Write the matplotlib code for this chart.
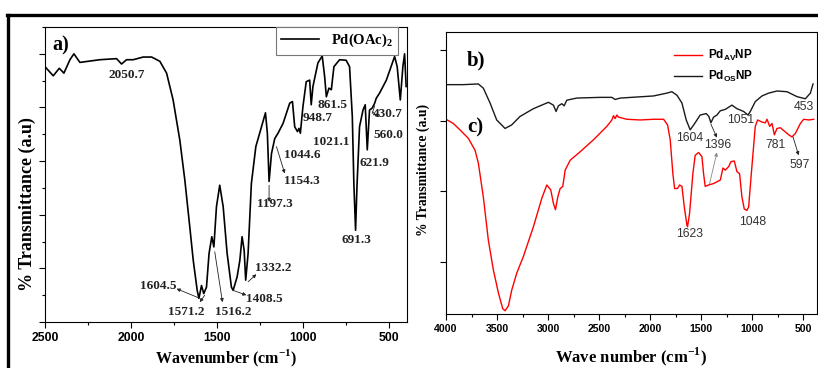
#!/usr/bin/env python
"""FTIR spectra: Pd(OAc)2 and the two Pd nanoparticle samples"""

import sys

import matplotlib
matplotlib.use("Agg")
import matplotlib.pyplot as plt
from matplotlib.lines import Line2D
from matplotlib.ticker import MultipleLocator

plt.rcParams['mathtext.fontset'] = 'custom'
plt.rcParams['mathtext.bf'] = 'Liberation Serif:bold'
plt.rcParams['mathtext.sf'] = 'Liberation Sans:bold'
plt.rcParams['mathtext.rm'] = 'Liberation Serif:bold'

SERIF = 'Liberation Serif'
SANS = 'Liberation Sans'

# panel a) Pd(OAc)2
pdoac_wn = [2500, 2452, 2417, 2390, 2355, 2332, 2297, 2181, 2084, 2055, 2026,
            1987, 1929, 1880, 1832, 1793, 1755, 1716, 1687, 1658, 1638, 1615,
            1605, 1590, 1577, 1561, 1546, 1530, 1518, 1503, 1484, 1464, 1441,
            1416, 1406, 1383, 1367, 1354, 1342, 1333, 1319, 1300, 1274, 1241,
            1218, 1207, 1197, 1183, 1164, 1145, 1116, 1077, 1061, 1048, 1032,
            1023, 1015, 1000, 981, 961, 952, 942, 913, 888, 874, 864, 849, 835,
            820, 787, 749, 729, 713, 704, 694, 686, 671, 651, 638, 626, 613,
            597, 583, 574, 554, 515, 467, 452, 434, 419, 409, 400]
pdoac_t = [4.76, 4.59, 4.73, 4.64, 4.89, 5.00, 4.84, 4.89, 4.91, 4.81, 4.89,
           4.89, 4.94, 4.94, 4.86, 4.64, 4.14, 3.39, 2.65, 1.77, 1.15, 0.59,
           0.44, 0.68, 0.53, 0.65, 1.28, 1.59, 1.40, 2.15, 2.55, 2.15, 1.28,
           0.65, 0.59, 0.84, 1.15, 1.59, 1.34, 0.78, 1.28, 2.58, 3.27, 3.64,
           3.90, 3.52, 2.62, 3.14, 3.42, 3.52, 3.70, 4.08, 4.11, 3.64, 3.55,
           3.61, 3.52, 4.02, 4.48, 4.51, 4.05, 4.39, 4.83, 4.96, 4.58, 4.20,
           4.36, 4.33, 4.76, 4.89, 4.88, 4.76, 3.83, 2.58, 1.71, 2.52, 3.64,
           3.95, 4.05, 3.21, 3.95, 3.99, 4.08, 4.17, 4.27, 4.51, 4.95, 4.76,
           4.14, 4.76, 5.00, 4.39]

# peak labels for a): text, label centre (wn, T)
a_labels = ['2050.7', '1604.5', '1571.2', '1516.2', '1408.5', '1332.2',
            '1197.3', '1154.3', '1044.6', '1021.1', '948.7', '861.5',
            '691.3', '621.9', '560.0', '430.7']
a_label_wn = [2026, 1842, 1677, 1406, 1222, 1170, 1164, 1005, 1004, 835,
              912, 829, 690, 583, 506, 506]
a_label_t = [4.61, 0.68, 0.19, 0.19, 0.42, 1.00, 2.20, 2.62, 3.11, 3.36,
             3.80, 4.05, 1.53, 2.96, 3.49, 3.88]
# arrows for a): from peak (wn, T) to near the label (wn, T)
a_arrow_from = [(1606, 0.45), (1571, 0.50), (1513, 1.31), (1406, 0.59),
                (1319, 0.75), (1197, 2.55), (1154, 3.27), (597, 3.92)]
a_arrow_to = [(1735, 0.62), (1600, 0.37), (1468, 0.37), (1329, 0.50),
              (1271, 0.89), (1197, 2.24), (1106, 2.77), (558, 3.82)]

# panel b) Pd_OS NP
os_wn = [4000, 3830, 3683, 3634, 3568, 3503, 3421, 3356, 3274, 3143, 2996,
         2947, 2921, 2898, 2865, 2842, 2816, 2718, 2489, 2374, 2342, 2292,
         1965, 1835, 1786, 1736, 1687, 1645, 1606, 1567, 1508, 1449, 1423,
         1403, 1377, 1344, 1311, 1262, 1197, 1148, 1082, 1040, 1017, 968, 902,
         837, 755, 657, 559, 477, 428, 402]
os_t = [2.51, 2.51, 2.52, 2.46, 2.25, 2.01, 1.89, 1.94, 2.06, 2.17, 2.26,
        2.22, 2.13, 2.21, 2.24, 2.21, 2.29, 2.32, 2.33, 2.33, 2.30, 2.32,
        2.35, 2.39, 2.41, 2.36, 2.25, 2.01, 1.87, 1.95, 2.08, 2.10, 2.06,
        1.97, 2.05, 2.08, 2.14, 2.16, 2.22, 2.17, 2.13, 2.08, 2.13, 2.27,
        2.35, 2.39, 2.42, 2.41, 2.34, 2.31, 2.39, 2.52]

# panel c) Pd_AV NP
av_wn = [4000, 3928, 3863, 3781, 3715, 3683, 3634, 3585, 3536, 3486, 3444,
         3421, 3388, 3356, 3307, 3241, 3143, 3061, 3012, 2973, 2947, 2927,
         2904, 2881, 2855, 2832, 2783, 2685, 2554, 2423, 2374, 2358, 2342,
         2325, 2309, 2227, 2096, 1965, 1867, 1828, 1802, 1776, 1759, 1730,
         1710, 1687, 1664, 1638, 1632, 1612, 1580, 1557, 1524, 1491, 1475,
         1459, 1426, 1377, 1311, 1285, 1262, 1229, 1206, 1174, 1148, 1122,
         1099, 1076, 1050, 1033, 1007, 968, 945, 902, 869, 853, 827, 804, 781,
         755, 722, 689, 640, 608, 575, 526, 493, 444, 395]
av_t = [2.02, 1.96, 1.87, 1.75, 1.58, 1.40, 0.92, 0.31, -0.11, -0.44, -0.66,
        -0.69, -0.62, -0.40, -0.16, 0.08, 0.50, 0.90, 1.09, 1.02, 0.83, 0.74,
        0.92, 1.04, 1.07, 1.30, 1.44, 1.56, 1.73, 1.92, 2.01, 2.07, 2.03,
        2.08, 2.05, 2.02, 2.01, 2.02, 2.02, 1.94, 1.73, 1.25, 1.04, 1.04,
        1.09, 1.07, 0.78, 0.52, 0.50, 0.69, 1.25, 1.51, 1.55, 1.49, 1.25,
        1.07, 1.09, 1.11, 1.16, 1.33, 1.30, 1.35, 1.42, 1.43, 1.28, 1.25,
        0.92, 0.75, 0.73, 0.78, 1.25, 1.92, 2.01, 1.98, 1.97, 2.02, 1.92,
        1.96, 1.80, 1.89, 1.90, 1.86, 1.80, 1.77, 1.82, 1.96, 2.02, 2.01, 2.02]

bc_labels = ['453', '1604', '1396', '1051', '781', '597', '1623', '1048']
bc_label_wn = [494, 1612, 1334, 1115, 765, 536, 1612, 994]
bc_label_t = [2.19, 1.75, 1.65, 2.01, 1.66, 1.37, 0.40, 0.57]
bc_arrow_from = [(1403, 1.95), (1416, 1.11), (598, 1.77)]
bc_arrow_to = [(1344, 1.76), (1344, 1.55), (543, 1.51)]
bc_arrow_color = ['#222222', '#888888', '#222222']

W, H = 818, 368


def _px_axes(fig, x0, x1, ytop, ybot):
    return fig.add_axes([x0 / W, 1 - ybot / H, (x1 - x0) / W, (ybot - ytop) / H])


def _style_ticks(ax, size):
    ax.tick_params(which='both', direction='out', width=0.8)
    ax.tick_params(which='major', length=4)
    ax.tick_params(which='minor', length=2.5)
    for lab in ax.get_xticklabels():
        lab.set_fontfamily(SANS)
        lab.set_fontweight('bold')
        lab.set_fontsize(size)
    ax.set_yticklabels([])
    for sp in ax.spines.values():
        sp.set_linewidth(0.8)


def _main():
    fig = plt.figure(figsize=(W / 100, H / 100), dpi=100)

    # outer frame lines
    fig.add_artist(Line2D([7 / W, 1], [1 - 15 / H, 1 - 15 / H], color='black',
                          lw=2.4, transform=fig.transFigure))
    fig.add_artist(Line2D([8 / W, 8 / W], [0, 1 - 15 / H], color='black',
                          lw=2.4, transform=fig.transFigure))

    # ---- panel a)
    ax = _px_axes(fig, 45, 407, 27, 322)
    ax.plot(pdoac_wn, pdoac_t, color='black', lw=1.2, label='Pd(OAc)$_{\\mathbf{2}}$')
    ax.set_xlim(2500, 395)
    ax.set_ylim(0, 5.5)
    ax.xaxis.set_major_locator(MultipleLocator(500))
    ax.xaxis.set_minor_locator(MultipleLocator(250))
    ax.yaxis.set_major_locator(MultipleLocator(1))
    ax.yaxis.set_minor_locator(MultipleLocator(0.5))
    _style_ticks(ax, 8.8)
    ax.set_xlabel('Wavenumber (cm$^{\\mathbf{-1}}$)', family=SERIF,
                  weight='bold', fontsize=11.5)
    ax.xaxis.set_label_coords(0.5, -0.122)
    ax.xaxis.label.set_va('center')
    ax.set_ylabel('% Transmittance (a.u)', family=SERIF, weight='bold',
                  fontsize=13)
    ax.yaxis.set_label_coords(-0.05, 0.40)
    ax.yaxis.label.set_va('center')
    leg = ax.legend(loc='upper right', bbox_to_anchor=(0.975, 1.0),
                    prop={'family': SERIF, 'weight': 'bold', 'size': 10.5},
                    fancybox=False, edgecolor='#777777', framealpha=1,
                    handlelength=2.6, borderpad=0.35, borderaxespad=0)
    leg.get_frame().set_linewidth(0.8)
    ax.text(0.02, 0.97, 'a)', transform=ax.transAxes, family=SERIF,
            weight='bold', fontsize=14.5, ha='left', va='top')
    for txt, x, y in zip(a_labels, a_label_wn, a_label_t):
        ax.text(x, y, txt, family=SERIF, weight='bold', fontsize=9.5,
                color='#222222', ha='center', va='center')
    for p0, p1 in zip(a_arrow_from, a_arrow_to):
        ax.annotate('', xy=p1, xytext=p0,
                    arrowprops=dict(arrowstyle='-|>', lw=0.6, color='#222222',
                                    mutation_scale=5, shrinkA=0, shrinkB=0))
    ax.plot([583, 597], [4.03, 3.89], color='#222222', lw=0.6)

    # ---- panels b) and c)
    bx = _px_axes(fig, 446, 817, 32, 314)
    bx.plot(av_wn, av_t, color='#ff0000', lw=1.0,
            label='Pd$_{\\mathsf{AV}}$NP')
    bx.plot(os_wn, os_t, color='#1a1a1a', lw=1.0,
            label='Pd$_{\\mathsf{OS}}$NP')
    bx.set_xlim(4000, 363)
    bx.set_ylim(-0.736, 3.255)
    bx.xaxis.set_major_locator(MultipleLocator(500))
    bx.xaxis.set_minor_locator(MultipleLocator(250))
    bx.yaxis.set_major_locator(MultipleLocator(1))
    _style_ticks(bx, 7.6)
    bx.set_xlabel('Wave number (cm$^{\\mathbf{-1}}$)', family=SERIF,
                  weight='bold', fontsize=12)
    bx.xaxis.set_label_coords(0.5, -0.152)
    bx.xaxis.label.set_va('center')
    bx.set_ylabel('% Transmittance (a.u)', family=SERIF, weight='bold',
                  fontsize=9.8)
    bx.yaxis.set_label_coords(-0.062, 0.51)
    bx.yaxis.label.set_va('center')
    bx.legend(loc='upper left', bbox_to_anchor=(0.585, 0.98), frameon=False,
              prop={'family': SANS, 'weight': 'bold', 'size': 8.5},
              handlelength=2.4, labelspacing=0.45, handletextpad=0.5)
    bx.text(0.057, 0.90, 'b)', transform=bx.transAxes, family=SERIF,
            weight='bold', fontsize=15, ha='left', va='center')
    bx.text(0.057, 0.66, 'c)', transform=bx.transAxes, family=SERIF,
            weight='bold', fontsize=15, ha='left', va='center')
    for txt, x, y in zip(bc_labels, bc_label_wn, bc_label_t):
        bx.text(x, y, txt, family=SANS, fontsize=8.8, color='#333333',
                ha='center', va='center')
    for p0, p1, c in zip(bc_arrow_from, bc_arrow_to, bc_arrow_color):
        bx.annotate('', xy=p1, xytext=p0,
                    arrowprops=dict(arrowstyle='-|>', lw=0.6, color=c,
                                    mutation_scale=5, shrinkA=0, shrinkB=0))

    fig.savefig('out.png', dpi=100)
    return 0


if __name__ == "__main__":
    sys.exit(_main())
